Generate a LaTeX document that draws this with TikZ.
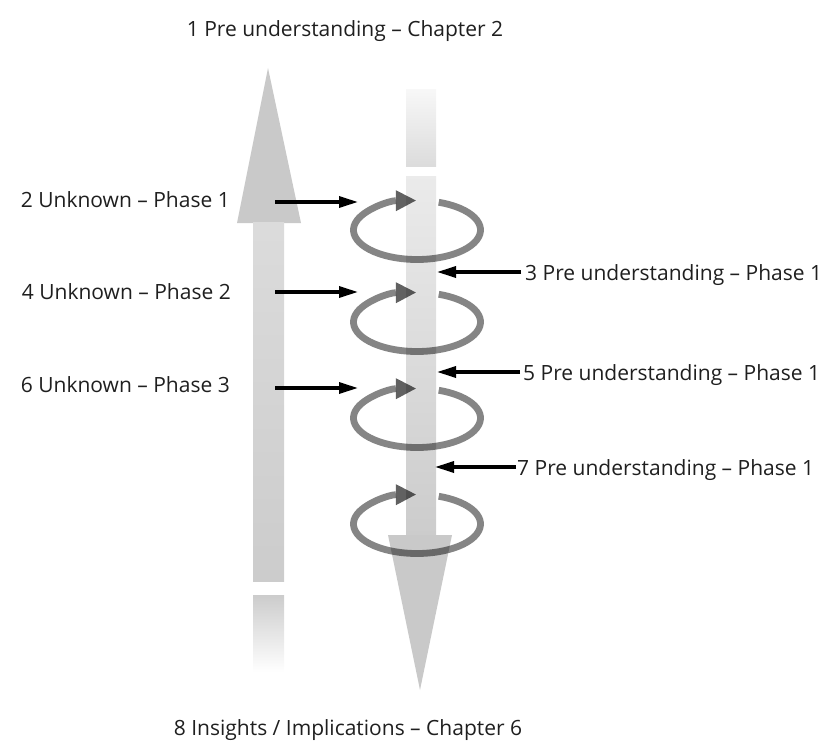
\documentclass[tikz,border=0pt]{standalone}
\usepackage{fontspec}
\setmainfont{Open Sans}
\usetikzlibrary{arrows.meta}

\definecolor{shaftlight}{gray}{0.86}
\definecolor{shaftdark}{gray}{0.80}
\definecolor{headgray}{gray}{0.79}
\definecolor{barlight}{gray}{0.92}
\definecolor{bardark}{gray}{0.80}

\tikzset{
  label/.style={font=\fontsize{21}{25}\selectfont, inner sep=0pt, text=black!88},
  pointer/.style={line width=3.2pt, draw=black, -{Triangle[length=19pt,width=11pt]}},
  loop/.style={line width=6.8pt, draw=black, draw opacity=0.48, fill opacity=0.62,
    -{Triangle[length=20pt,width=21pt,line width=0pt]}},
}

\begin{document}
\begin{tikzpicture}[x=1pt,y=-1pt]
\useasboundingbox (0,0) rectangle (829,746);

% upward arrow on the left
\fill[headgray] (268,68) -- (301,223) -- (237,223) -- cycle;
\shade[top color=shaftlight, bottom color=shaftdark] (253,222) rectangle (284,581);
\shade[top color=shaftdark, bottom color=white] (253,595) rectangle (284,672);

% downward arrow in the middle
\shade[top color=black!3, bottom color=black!14] (406,90) rectangle (436,167);
\shade[top color=barlight, bottom color=bardark] (406,177) rectangle (436,536);
\fill[headgray] (388,535) -- (452,535) -- (420,690) -- cycle;

% the four loops round the downward arrow
\foreach \cy in {230,322,418,524}{
  \draw[loop] (417,\cy) ++(70:63.5pt and 29.5pt)
    arc[start angle=70, end angle=-269, x radius=63.5pt, y radius=29.5pt];
}

% labels
\node[label, anchor=base] (t1) at (345,37) {1 Pre understanding – Chapter 2};
\node[label, anchor=base east] (t2) at (230,207) {2 Unknown – Phase 1};
\node[label, anchor=base east] (t4) at (231,299) {4 Unknown – Phase 2};
\node[label, anchor=base east] (t6) at (230,392) {6 Unknown – Phase 3};
\node[label, anchor=base west] (t3) at (525,280) {3 Pre understanding – Phase 1};
\node[label, anchor=base west] (t5) at (523,380) {5 Pre understanding – Phase 1};
\node[label, anchor=base west] (t7) at (517,475) {7 Pre understanding – Phase 1};
\node[label, anchor=base] (t8) at (348,735) {8 Insights / Implications – Chapter 6};

% pointers from the labels towards the loops
\coordinate (a2s) at (275,202); \coordinate (a2e) at (358,202);
\coordinate (a4s) at (275,292); \coordinate (a4e) at (358,292);
\coordinate (a6s) at (275,388); \coordinate (a6e) at (358,388);
\coordinate (a3s) at (521,272); \coordinate (a3e) at (437,272);
\coordinate (a5s) at (520,372); \coordinate (a5e) at (437,372);
\coordinate (a7s) at (516,467); \coordinate (a7e) at (435,467);
\foreach \n in {2,4,6,3,5,7}{
  \draw[pointer] (a\n s) -- (a\n e);
}
\end{tikzpicture}
\end{document}
